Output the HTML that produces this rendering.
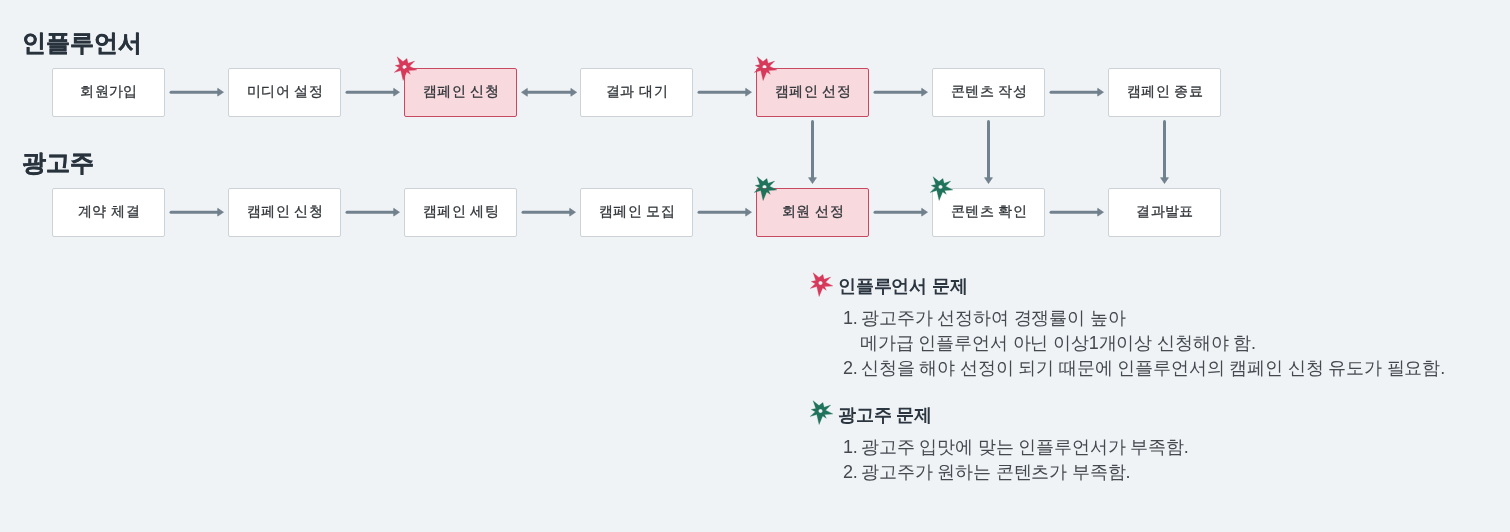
<!DOCTYPE html>
<html><head><meta charset="utf-8"><style>
html,body{margin:0;padding:0;}
.g{will-change:transform;}
body{width:1510px;height:532px;background:#f0f3f6;position:relative;overflow:hidden;font-family:"Liberation Sans",sans-serif;}
.title{position:absolute;font-size:24px;font-weight:bold;color:#29333d;-webkit-text-stroke:0.4px #29333d;line-height:1;white-space:nowrap;}
.box{position:absolute;width:111px;height:47px;border:1px solid #ccd2d7;border-radius:2px;background:#fff;box-sizing:content-box;
display:flex;align-items:center;justify-content:center;font-size:14px;letter-spacing:0.4px;color:#33373b;white-space:nowrap;-webkit-text-stroke:0.3px #33373b;}
.box span{position:relative;top:-1px;left:0.5px;}
.box.pink{background:#f8d9de;border-color:#c84a62;}
.arrows{position:absolute;left:0;top:0;}
.ic{position:absolute;}
.h{position:absolute;font-size:18px;letter-spacing:-0.2px;font-weight:bold;color:#2b3640;white-space:nowrap;line-height:1;}
.li{position:absolute;font-size:18px;letter-spacing:-0.15px;color:#43494f;white-space:nowrap;line-height:25px;}
</style></head><body><div class="g" style="position:absolute;left:0;top:0;width:1510px;height:532px;">
<div class="title" style="left:22px;top:31px">인플루언서</div>
<div class="title" style="left:22px;top:151px">광고주</div>
<div class="box" style="left:52px;top:68px"><span>회원가입</span></div>
<div class="box" style="left:228px;top:68px"><span>미디어 설정</span></div>
<div class="box pink" style="left:404px;top:68px"><span>캠페인 신청</span></div>
<div class="box" style="left:580px;top:68px"><span>결과 대기</span></div>
<div class="box pink" style="left:756px;top:68px"><span>캠페인 선정</span></div>
<div class="box" style="left:932px;top:68px"><span>콘텐츠 작성</span></div>
<div class="box" style="left:1108px;top:68px"><span>캠페인 종료</span></div>
<div class="box" style="left:52px;top:188px"><span>계약 체결</span></div>
<div class="box" style="left:228px;top:188px"><span>캠페인 신청</span></div>
<div class="box" style="left:404px;top:188px"><span>캠페인 세팅</span></div>
<div class="box" style="left:580px;top:188px"><span>캠페인 모집</span></div>
<div class="box pink" style="left:756px;top:188px"><span>회원 선정</span></div>
<div class="box" style="left:932px;top:188px"><span>콘텐츠 확인</span></div>
<div class="box" style="left:1108px;top:188px"><span>결과발표</span></div>
<svg class="arrows" width="1510" height="532" viewBox="0 0 1510 532">
<line x1="171" y1="92.2" x2="218.7" y2="92.2" stroke="#71818d" stroke-width="3" stroke-linecap="round"/>
<path d="M223.5 92.2 L217.7 88.3 L217.7 96.10000000000001 Z" fill="#71818d" stroke="#71818d" stroke-width="0.7" stroke-linejoin="round"/>
<line x1="171" y1="212.2" x2="218.7" y2="212.2" stroke="#71818d" stroke-width="3" stroke-linecap="round"/>
<path d="M223.5 212.2 L217.7 208.29999999999998 L217.7 216.1 Z" fill="#71818d" stroke="#71818d" stroke-width="0.7" stroke-linejoin="round"/>
<line x1="347" y1="92.2" x2="394.7" y2="92.2" stroke="#71818d" stroke-width="3" stroke-linecap="round"/>
<path d="M399.5 92.2 L393.7 88.3 L393.7 96.10000000000001 Z" fill="#71818d" stroke="#71818d" stroke-width="0.7" stroke-linejoin="round"/>
<line x1="347" y1="212.2" x2="394.7" y2="212.2" stroke="#71818d" stroke-width="3" stroke-linecap="round"/>
<path d="M399.5 212.2 L393.7 208.29999999999998 L393.7 216.1 Z" fill="#71818d" stroke="#71818d" stroke-width="0.7" stroke-linejoin="round"/>
<line x1="526.3" y1="92.3" x2="571.9000000000001" y2="92.3" stroke="#71818d" stroke-width="3" stroke-linecap="round"/>
<path d="M576.7 92.3 L570.9000000000001 88.39999999999999 L570.9000000000001 96.2 Z" fill="#71818d" stroke="#71818d" stroke-width="0.7" stroke-linejoin="round"/>
<path d="M521.5 92.3 L527.3 88.39999999999999 L527.3 96.2 Z" fill="#71818d" stroke="#71818d" stroke-width="0.7" stroke-linejoin="round"/>
<line x1="523" y1="212.2" x2="570.7" y2="212.2" stroke="#71818d" stroke-width="3" stroke-linecap="round"/>
<path d="M575.5 212.2 L569.7 208.29999999999998 L569.7 216.1 Z" fill="#71818d" stroke="#71818d" stroke-width="0.7" stroke-linejoin="round"/>
<line x1="699" y1="92.2" x2="746.7" y2="92.2" stroke="#71818d" stroke-width="3" stroke-linecap="round"/>
<path d="M751.5 92.2 L745.7 88.3 L745.7 96.10000000000001 Z" fill="#71818d" stroke="#71818d" stroke-width="0.7" stroke-linejoin="round"/>
<line x1="699" y1="212.2" x2="746.7" y2="212.2" stroke="#71818d" stroke-width="3" stroke-linecap="round"/>
<path d="M751.5 212.2 L745.7 208.29999999999998 L745.7 216.1 Z" fill="#71818d" stroke="#71818d" stroke-width="0.7" stroke-linejoin="round"/>
<line x1="875" y1="92.2" x2="922.7" y2="92.2" stroke="#71818d" stroke-width="3" stroke-linecap="round"/>
<path d="M927.5 92.2 L921.7 88.3 L921.7 96.10000000000001 Z" fill="#71818d" stroke="#71818d" stroke-width="0.7" stroke-linejoin="round"/>
<line x1="875" y1="212.2" x2="922.7" y2="212.2" stroke="#71818d" stroke-width="3" stroke-linecap="round"/>
<path d="M927.5 212.2 L921.7 208.29999999999998 L921.7 216.1 Z" fill="#71818d" stroke="#71818d" stroke-width="0.7" stroke-linejoin="round"/>
<line x1="1051" y1="92.2" x2="1098.7" y2="92.2" stroke="#71818d" stroke-width="3" stroke-linecap="round"/>
<path d="M1103.5 92.2 L1097.7 88.3 L1097.7 96.10000000000001 Z" fill="#71818d" stroke="#71818d" stroke-width="0.7" stroke-linejoin="round"/>
<line x1="1051" y1="212.2" x2="1098.7" y2="212.2" stroke="#71818d" stroke-width="3" stroke-linecap="round"/>
<path d="M1103.5 212.2 L1097.7 208.29999999999998 L1097.7 216.1 Z" fill="#71818d" stroke="#71818d" stroke-width="0.7" stroke-linejoin="round"/>
<line x1="812.5" y1="121.5" x2="812.5" y2="178.7" stroke="#71818d" stroke-width="3" stroke-linecap="round"/>
<path d="M812.5 183.5 L808.6 177.7 L816.4 177.7 Z" fill="#71818d" stroke="#71818d" stroke-width="0.7" stroke-linejoin="round"/>
<line x1="988.5" y1="121.5" x2="988.5" y2="178.7" stroke="#71818d" stroke-width="3" stroke-linecap="round"/>
<path d="M988.5 183.5 L984.6 177.7 L992.4 177.7 Z" fill="#71818d" stroke="#71818d" stroke-width="0.7" stroke-linejoin="round"/>
<line x1="1164.5" y1="121.5" x2="1164.5" y2="178.7" stroke="#71818d" stroke-width="3" stroke-linecap="round"/>
<path d="M1164.5 183.5 L1160.6 177.7 L1168.4 177.7 Z" fill="#71818d" stroke="#71818d" stroke-width="0.7" stroke-linejoin="round"/>
</svg>
<svg class="ic" style="left:390.2px;top:53px" width="30" height="30" viewBox="0 0 30 30"><path fill="#d6395a" fill-rule="evenodd" stroke="#d6395a" stroke-width="0.3" stroke-linejoin="round" d="M7.1 3.7 L13 8.6 L16.9 5.4 L18.1 10.3 L24.7 8.1 L19.6 13.2 L26.9 16.9 L18.6 17.6 L20.3 21.3 L16.7 18.9 L13.1 27.5 L10.8 17.6 L4.2 19.4 L9.3 14.7 L5.2 12.5 L9.8 11.5 Z M14.5 11.9 A2.1 2.1 0 1 0 14.51 11.9 Z"/></svg>
<svg class="ic" style="left:750.2px;top:53px" width="30" height="30" viewBox="0 0 30 30"><path fill="#d6395a" fill-rule="evenodd" stroke="#d6395a" stroke-width="0.3" stroke-linejoin="round" d="M7.1 3.7 L13 8.6 L16.9 5.4 L18.1 10.3 L24.7 8.1 L19.6 13.2 L26.9 16.9 L18.6 17.6 L20.3 21.3 L16.7 18.9 L13.1 27.5 L10.8 17.6 L4.2 19.4 L9.3 14.7 L5.2 12.5 L9.8 11.5 Z M14.5 11.9 A2.1 2.1 0 1 0 14.51 11.9 Z"/></svg>
<svg class="ic" style="left:750.2px;top:173px" width="30" height="30" viewBox="0 0 30 30"><path fill="#1f735a" fill-rule="evenodd" stroke="#1f735a" stroke-width="0.3" stroke-linejoin="round" d="M7.1 3.7 L13 8.6 L16.9 5.4 L18.1 10.3 L24.7 8.1 L19.6 13.2 L26.9 16.9 L18.6 17.6 L20.3 21.3 L16.7 18.9 L13.1 27.5 L10.8 17.6 L4.2 19.4 L9.3 14.7 L5.2 12.5 L9.8 11.5 Z M14.5 11.9 A2.1 2.1 0 1 0 14.51 11.9 Z"/></svg>
<svg class="ic" style="left:926.4px;top:173px" width="30" height="30" viewBox="0 0 30 30"><path fill="#1f735a" fill-rule="evenodd" stroke="#1f735a" stroke-width="0.3" stroke-linejoin="round" d="M7.1 3.7 L13 8.6 L16.9 5.4 L18.1 10.3 L24.7 8.1 L19.6 13.2 L26.9 16.9 L18.6 17.6 L20.3 21.3 L16.7 18.9 L13.1 27.5 L10.8 17.6 L4.2 19.4 L9.3 14.7 L5.2 12.5 L9.8 11.5 Z M14.5 11.9 A2.1 2.1 0 1 0 14.51 11.9 Z"/></svg>
<svg class="ic" style="left:806px;top:269px" width="30" height="30" viewBox="0 0 30 30"><path fill="#d6395a" fill-rule="evenodd" stroke="#d6395a" stroke-width="0.3" stroke-linejoin="round" d="M7.1 3.7 L13 8.6 L16.9 5.4 L18.1 10.3 L24.7 8.1 L19.6 13.2 L26.9 16.9 L18.6 17.6 L20.3 21.3 L16.7 18.9 L13.1 27.5 L10.8 17.6 L4.2 19.4 L9.3 14.7 L5.2 12.5 L9.8 11.5 Z M14.5 11.9 A2.1 2.1 0 1 0 14.51 11.9 Z"/></svg>
<div class="h" style="left:838px;top:277px">인플루언서 문제</div>
<div class="li" style="left:843px;top:306px">1.</div><div class="li" style="left:861px;top:306px">광고주가 선정하여 경쟁률이 높아</div>
<div class="li" style="left:860px;top:331px">메가급 인플루언서 아닌 이상1개이상 신청해야 함.</div>
<div class="li" style="left:843px;top:356px">2.</div><div class="li" style="left:861px;top:356px">신청을 해야 선정이 되기 때문에 인플루언서의 캠페인 신청 유도가 필요함.</div>
<svg class="ic" style="left:806px;top:397px" width="30" height="30" viewBox="0 0 30 30"><path fill="#1f735a" fill-rule="evenodd" stroke="#1f735a" stroke-width="0.3" stroke-linejoin="round" d="M7.1 3.7 L13 8.6 L16.9 5.4 L18.1 10.3 L24.7 8.1 L19.6 13.2 L26.9 16.9 L18.6 17.6 L20.3 21.3 L16.7 18.9 L13.1 27.5 L10.8 17.6 L4.2 19.4 L9.3 14.7 L5.2 12.5 L9.8 11.5 Z M14.5 11.9 A2.1 2.1 0 1 0 14.51 11.9 Z"/></svg>
<div class="h" style="left:838px;top:405.5px">광고주 문제</div>
<div class="li" style="left:843px;top:435px">1.</div><div class="li" style="left:861px;top:435px">광고주 입맛에 맞는 인플루언서가 부족함.</div>
<div class="li" style="left:843px;top:460px">2.</div><div class="li" style="left:861px;top:460px">광고주가 원하는 콘텐츠가 부족함.</div>
</div></body></html>
